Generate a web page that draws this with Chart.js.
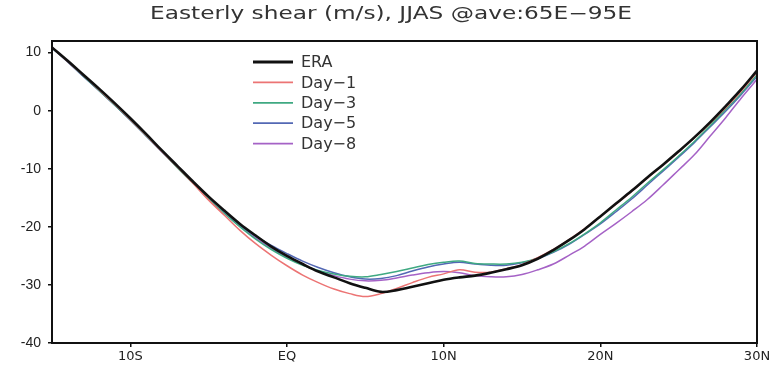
<!DOCTYPE html>
<html lang="en">
<head>
<meta charset="UTF-8">
<title>Easterly shear</title>
<script src="https://cdn.jsdelivr.net/npm/chart.js"></script>
<style>
    body { margin: 0; background: #fff; }
    #wrap { width: 769px; height: 366px; }
</style>
</head>
<body>
<div id="wrap"><canvas id="shearChart" width="769" height="366"></canvas></div>
<script>
    const titleText = 'Easterly shear (m/s), JJAS @ave:65E\u221295E';

    // latitude, -15 (15S) .. 30 (30N), 1 degree steps
    const lats = [-15, -14, -13, -12, -11, -10, -9, -8, -7, -6, -5, -4, -3, -2, -1, 0,
        1, 2, 3, 4, 5, 6, 7, 8, 9, 10, 11, 12, 13, 14, 15, 16, 17, 18, 19, 20,
        21, 22, 23, 24, 25, 26, 27, 28, 29, 30];

    const era = [10.9, 8.6, 6.2, 3.8, 1.3, -1.3, -4.0, -6.8, -9.5, -12.2, -14.8, -17.2, -19.5, -21.5, -23.4, -25.0,
        -26.4, -27.7, -28.7, -29.7, -30.5, -31.2, -30.9, -30.3, -29.7, -29.1, -28.7, -28.4, -27.9, -27.3, -26.6, -25.5,
        -24.0, -22.3, -20.4, -18.2, -16.0, -13.8, -11.5, -9.3, -7.0, -4.6, -2.0, 0.8, 3.7, 6.9];
    const day1 = [10.9, 8.5, 6.1, 3.6, 1.1, -1.5, -4.2, -7.0, -9.7, -12.5, -15.4, -18.0, -20.6, -22.9, -24.9, -26.7,
        -28.3, -29.6, -30.7, -31.5, -32.0, -31.5, -30.6, -29.6, -28.7, -28.1, -27.4, -27.8, -27.8, -27.2, -26.5, -25.3,
        -23.9, -22.2, -20.3, -18.2, -16.1, -13.9, -11.6, -9.4, -7.1, -4.7, -2.2, 0.5, 3.4, 6.6];
    const day3 = [10.8, 8.5, 6.0, 3.5, 1.0, -1.6, -4.3, -7.0, -9.8, -12.5, -15.2, -17.7, -20.0, -22.1, -23.9, -25.4,
        -26.6, -27.5, -28.1, -28.5, -28.6, -28.2, -27.7, -27.1, -26.5, -26.1, -25.9, -26.3, -26.4, -26.4, -26.1, -25.4,
        -24.3, -22.9, -21.2, -19.3, -17.1, -14.9, -12.5, -10.2, -7.8, -5.3, -2.6, 0.2, 3.0, 6.2];
    const day5 = [10.8, 8.4, 5.9, 3.5, 1.0, -1.6, -4.3, -7.0, -9.7, -12.3, -14.9, -17.4, -19.7, -21.6, -23.2, -24.6,
        -25.9, -27.0, -27.9, -28.6, -29.0, -28.9, -28.4, -27.6, -26.9, -26.4, -26.1, -26.4, -26.6, -26.6, -26.2, -25.5,
        -24.4, -23.0, -21.3, -19.5, -17.4, -15.2, -12.8, -10.4, -8.0, -5.5, -2.8, -0.1, 2.8, 5.9];
    const day8 = [10.9, 8.5, 6.0, 3.5, 1.0, -1.6, -4.3, -7.0, -9.6, -12.3, -14.9, -17.4, -19.8, -21.9, -23.7, -25.2,
        -26.5, -27.6, -28.4, -29.0, -29.3, -29.2, -28.8, -28.3, -27.9, -27.7, -27.9, -28.4, -28.6, -28.6, -28.2, -27.4,
        -26.4, -24.9, -23.3, -21.3, -19.4, -17.4, -15.3, -12.8, -10.2, -7.6, -4.4, -1.2, 2.2, 5.4];

    const seriesNames = ['ERA', 'Day\u22121', 'Day\u22123', 'Day\u22125', 'Day\u22128'];
    const seriesValues = [era, day1, day3, day5, day8];
    const seriesColors = ['#111111', '#ec7474', '#3fa982', '#5368b4', '#a562c6'];
    const seriesWidths = [2.6, 1.5, 1.5, 1.5, 1.5];

    const xTickValues = [-10, 0, 10, 20, 30];
    const xTickLabels = ['10S', 'EQ', '10N', '20N', '30N'];
    const yTickValues = [-40, -30, -20, -10, 0, 10];

    const datasets = seriesNames.map((name, i) => ({
        label: name,
        data: lats.map((lat, j) => ({ x: lat, y: seriesValues[i][j] })),
        borderColor: seriesColors[i],
        borderWidth: seriesWidths[i],
        pointRadius: 0,
        tension: 0.35,
        fill: false
    }));

    // title, frame and in-plot legend
    const decorations = {
        id: 'decorations',
        afterDraw(chart) {
            const ctx = chart.ctx;
            const area = chart.chartArea;
            ctx.save();

            ctx.strokeStyle = '#111';
            ctx.lineWidth = 2;
            ctx.strokeRect(area.left, area.top, area.right - area.left, area.bottom - area.top);

            // title stretched to the reference width
            ctx.font = '17px "DejaVu Sans"';
            ctx.fillStyle = '#333';
            ctx.textBaseline = 'middle';
            const w = ctx.measureText(titleText).width;
            const sx = 482 / w;
            ctx.translate(150, 15);
            ctx.scale(sx, 1);
            ctx.textAlign = 'left';
            ctx.fillText(titleText, 0, 0);
            ctx.setTransform(1, 0, 0, 1, 0, 0);

            ctx.font = '16px "DejaVu Sans"';
            ctx.fillStyle = '#333';
            ctx.textAlign = 'left';
            seriesNames.forEach((name, i) => {
                const y = 62 + i * 20.4;
                ctx.strokeStyle = seriesColors[i];
                ctx.lineWidth = i === 0 ? 3 : 1.8;
                ctx.beginPath();
                ctx.moveTo(253, y);
                ctx.lineTo(293, y);
                ctx.stroke();
                ctx.fillText(name, 301, y + 1);
            });
            ctx.restore();
        }
    };

    new Chart(document.getElementById('shearChart'), {
        type: 'line',
        data: { datasets: datasets },
        options: {
            responsive: false,
            animation: false,
            layout: { padding: { top: 41, right: 12, left: 0, bottom: 0 } },
            plugins: {
                legend: { display: false },
                title: { display: false },
                tooltip: { enabled: false }
            },
            scales: {
                x: {
                    type: 'linear',
                    min: -15,
                    max: 30,
                    afterBuildTicks: (scale) => { scale.ticks = xTickValues.map(v => ({ value: v })); },
                    afterFit: (scale) => {
                        scale.height = 23;
                        scale.paddingLeft = 0;
                        scale.paddingRight = 0;
                    },
                    ticks: {
                        callback: (v) => xTickLabels[xTickValues.indexOf(v)],
                        font: { family: '"Liberation Sans Narrow", "DejaVu Sans"', size: 13 },
                        color: '#222',
                        padding: 2,
                        maxRotation: 0
                    },
                    grid: { drawOnChartArea: false, tickLength: 4, color: '#111', lineWidth: 1.5 },
                    border: { display: false }
                },
                y: {
                    min: -40,
                    max: 12,
                    afterBuildTicks: (scale) => { scale.ticks = yTickValues.map(v => ({ value: v })); },
                    afterFit: (scale) => {
                        scale.width = 52;
                        scale.paddingTop = 0;
                        scale.paddingBottom = 0;
                    },
                    ticks: {
                        font: { family: '"Liberation Sans", Arial', size: 14 },
                        color: '#222',
                        padding: 7
                    },
                    grid: { drawOnChartArea: false, tickLength: 4, color: '#111', lineWidth: 1.5 },
                    border: { display: false }
                }
            }
        },
        plugins: [decorations]
    });
</script>
</body>
</html>
